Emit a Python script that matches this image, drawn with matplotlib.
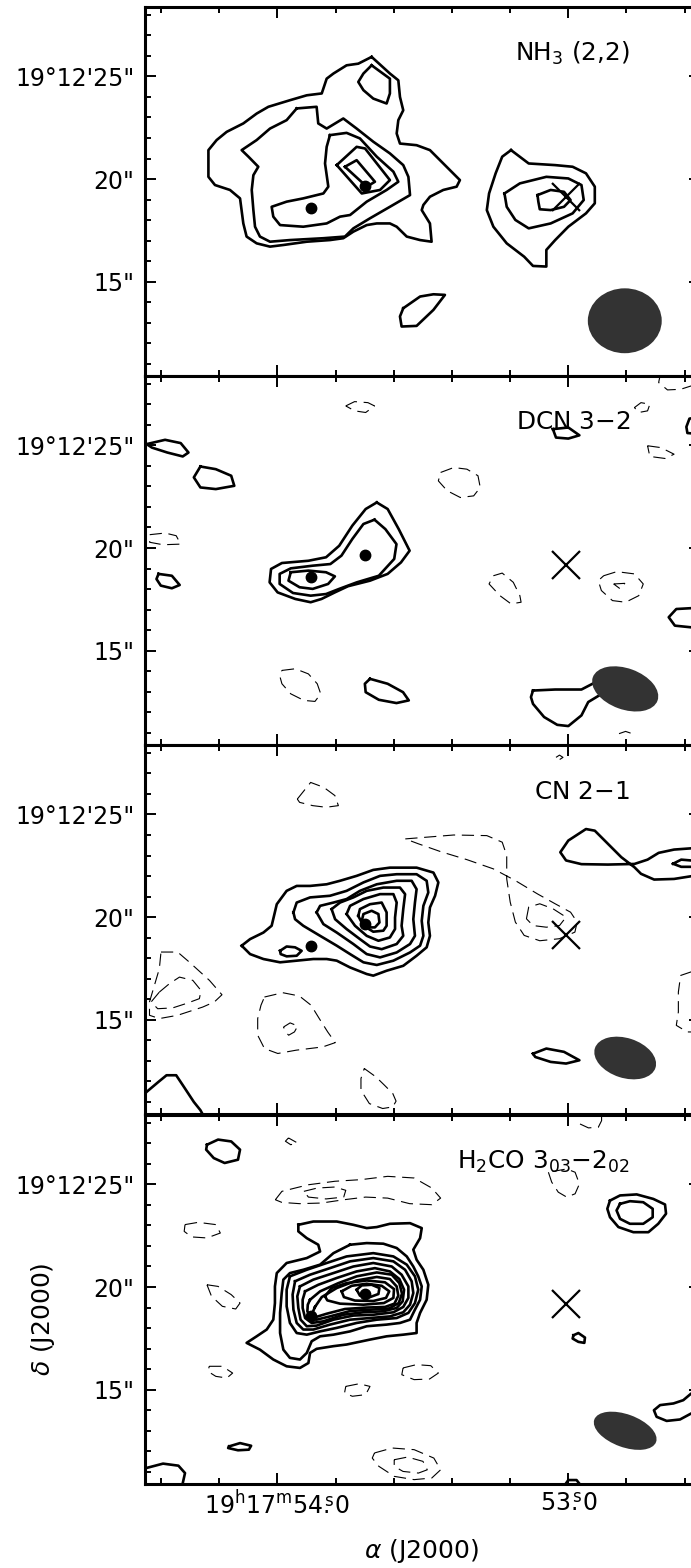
import numpy as np
import matplotlib.pyplot as plt
from matplotlib.patches import Ellipse

plt.rcParams['font.family'] = 'DejaVu Sans'
plt.rcParams['mathtext.fontset'] = 'dejavusans'

# map offsets in arcsec: x = east of 19h17m53.0s, y = arcsec part of Dec (19d12')
DEC0 = 19 + 12 / 60 + 20 / 3600
SEC = 15 * np.cos(np.radians(DEC0))  # arcsec per second of RA

ra_minor = [54.4, 54.2, 54.0, 53.8, 53.6, 53.4, 53.2, 53.0, 52.8, 52.6]
ra_major = [54.0, 53.0]
ra_labels = [r'$19^{\mathrm{h}}17^{\mathrm{m}}54\overset{\mathrm{s}}{.}0$',
             r'$53\overset{\mathrm{s}}{.}0$']
dec_major = [15, 20, 25]
dec_labels = ['15"', '20"', "19°12'25\""]
dec_minor = list(range(11, 29))

titles = ['NH$_3$ (2,2)', 'DCN 3$-$2', 'CN 2$-$1', 'H$_2$CO 3$_{03}$$-$2$_{02}$']

src_x = [12.55, 9.90]
src_y = [18.59, 19.66]
cross_x = [0.12]
cross_y = [19.15]

beam_x = [-2.75, -2.77, -2.77, -2.77]
beam_y = [13.10, 13.14, 13.14, 13.00]
beam_w = [3.6, 3.35, 3.1, 3.2]
beam_h = [3.16, 2.0, 1.94, 1.6]
beam_pa = [0, 20, 18, 20]

# ---------------- NH3 (2,2) ----------------
nh3_pos = [
    [(9.58, 25.95), (8.69, 25.14), (8.28, 24.81), (8.20, 24.00), (8.04, 23.35), (8.28, 22.87),
     (8.36, 22.22), (8.20, 21.73), (7.39, 21.65), (6.74, 21.41), (6.09, 20.76), (5.28, 19.95),
     (5.44, 19.63), (6.09, 19.47), (6.74, 19.14), (7.06, 18.74), (7.14, 18.49), (6.74, 17.84),
     (6.66, 16.95), (7.22, 17.03), (7.87, 17.20), (8.36, 17.68), (8.69, 17.84), (9.33, 17.84),
     (9.82, 17.76), (10.47, 17.44), (10.96, 17.12), (11.61, 17.03), (12.74, 16.95), (13.88, 16.79),
     (14.53, 16.71), (15.18, 16.87), (15.67, 17.20), (15.83, 17.84), (15.99, 19.06), (16.48, 19.47),
     (17.21, 19.71), (17.53, 20.11), (17.53, 21.41), (17.13, 21.90), (16.64, 22.30), (15.83, 22.71),
     (15.18, 23.19), (14.61, 23.52), (13.56, 23.84), (12.74, 24.08), (12.01, 24.17), (11.77, 24.89),
     (11.44, 25.14), (10.80, 25.54), (10.23, 25.62)],
    [(9.58, 25.54), (8.69, 24.89), (8.69, 24.17), (8.85, 23.68), (9.50, 23.92), (9.98, 24.33),
     (10.23, 24.73), (9.98, 25.14)],
    [(13.23, 23.44), (12.26, 23.52), (12.18, 22.71), (11.77, 22.46), (10.96, 22.95), (10.31, 22.46),
     (9.50, 21.82), (8.69, 21.25), (8.04, 20.68), (7.79, 20.11), (7.71, 19.22), (8.69, 18.65),
     (9.66, 18.09), (10.47, 17.60), (10.88, 17.20), (11.93, 17.12), (13.56, 17.03), (14.53, 16.95),
     (15.02, 17.20), (15.26, 17.68), (15.34, 18.49), (15.42, 19.47), (15.34, 20.19), (15.10, 20.60),
     (15.58, 21.09), (15.91, 21.41), (15.18, 21.90), (14.53, 22.46), (13.72, 22.87)],
    [(11.61, 22.14), (10.80, 22.25), (10.15, 21.98), (9.33, 21.09), (8.52, 20.36), (8.28, 19.87),
     (8.85, 19.47), (9.82, 18.90), (10.63, 18.25), (11.12, 18.17), (11.77, 17.84), (12.91, 17.68),
     (14.04, 17.76), (14.37, 18.17), (14.45, 18.65), (13.72, 18.90), (12.91, 19.06), (11.93, 19.30),
     (11.69, 19.63), (11.85, 20.76), (11.77, 21.57)],
    [(11.28, 20.68), (10.31, 21.57), (9.90, 21.49), (8.69, 19.95), (9.17, 19.47), (10.06, 19.30)],
    [(10.88, 20.60), (10.31, 20.92), (9.42, 19.87), (9.82, 19.63)],
    [(8.04, 13.71), (7.22, 14.28), (6.57, 14.39), (6.01, 14.36), (6.57, 13.63), (7.39, 12.85),
     (8.12, 12.82), (8.20, 13.31)],
    [(2.79, 21.41), (1.93, 20.76), (0.64, 20.68), (-0.21, 20.60), (-0.86, 20.28), (-1.29, 19.63),
     (-1.29, 18.82), (-0.86, 18.33), (0.00, 17.68), (0.64, 17.03), (1.07, 16.55), (1.07, 15.74),
     (1.72, 15.77), (2.15, 16.22), (3.00, 16.87), (3.65, 17.68), (3.97, 18.49), (3.86, 19.30),
     (3.54, 20.28), (3.22, 21.09)],
    [(3.11, 19.30), (2.36, 19.79), (1.07, 20.11), (0.00, 20.03), (-0.64, 19.71), (-0.75, 18.98),
     (-0.21, 18.33), (0.86, 17.84), (1.93, 17.60), (2.58, 18.01), (3.00, 18.65)],
    [(1.50, 19.22), (0.86, 19.47), (0.21, 19.38), (-0.11, 18.98), (0.21, 18.65), (0.86, 18.49),
     (1.39, 18.53), (1.46, 18.90)],
]

# ---------------- DCN 3-2 ----------------
dcn_pos = [
    [(9.33, 22.22), (8.80, 21.90), (8.26, 20.92), (7.73, 19.87), (8.15, 19.30), (8.80, 18.74),
     (9.66, 18.41), (10.73, 18.14), (11.37, 17.84), (12.02, 17.52), (12.55, 17.36), (13.30, 17.52),
     (14.16, 17.84), (14.55, 18.33), (14.48, 18.98), (13.95, 19.27), (12.66, 19.38), (11.80, 19.55),
     (11.16, 20.11), (10.52, 21.09), (9.87, 21.90)],
    [(9.44, 21.38), (8.91, 20.92), (8.37, 20.19), (8.48, 19.47), (9.23, 18.65), (10.30, 18.33),
     (11.16, 18.01), (11.80, 17.76), (12.55, 17.68), (13.41, 17.81), (14.06, 18.25), (14.06, 18.74),
     (13.52, 19.01), (12.45, 19.14), (11.59, 19.22), (11.05, 19.63), (10.52, 20.44), (9.98, 21.17)],
    [(13.52, 18.82), (12.66, 18.90), (11.80, 18.82), (11.37, 18.62), (11.70, 18.25), (12.45, 18.01),
     (13.09, 18.09), (13.63, 18.41)],
    [(20.54, 25.06), (19.64, 25.27), (18.88, 25.11), (18.50, 24.65), (18.78, 24.46), (19.53, 24.65),
     (20.28, 24.89)],
    [(17.92, 23.97), (17.17, 23.84), (16.42, 23.52), (16.27, 23.03), (17.17, 22.87), (17.92, 22.95),
     (18.24, 23.44)],
    [(19.96, 18.74), (19.31, 18.65), (18.93, 18.20), (19.31, 18.04), (19.85, 18.17), (20.06, 18.49)],
    [(9.66, 13.63), (8.80, 13.39), (8.05, 12.98), (7.77, 12.58), (8.37, 12.45), (9.23, 12.61),
     (9.87, 12.98), (9.91, 13.39)],
    [(1.72, 13.06), (0.64, 13.11), (-0.64, 13.11), (-1.18, 13.39), (-1.72, 13.55), (-1.50, 12.82),
     (-0.97, 12.50), (-0.64, 11.85), (0.00, 11.33), (0.54, 11.39), (1.18, 11.77), (1.72, 12.41),
     (1.82, 12.74)],
    [(0.75, 25.79), (0.00, 25.87), (-0.54, 25.49), (0.00, 25.33), (0.60, 25.38)],
]
dcn_pos_open = [
    [(-7.0, 17.10), (-5.97, 17.07), (-5.26, 17.03), (-4.89, 16.63), (-5.19, 16.22), (-5.97, 16.14),
     (-7.0, 16.10)],
    [(-7.0, 26.50), (-5.90, 26.30), (-5.75, 25.90), (-5.80, 25.60), (-7.0, 25.50)],
]
dcn_neg = [
    [(10.84, 26.92), (10.41, 27.13), (9.76, 27.08), (9.44, 26.92), (9.87, 26.60), (10.41, 26.68)],
    [(6.22, 23.68), (5.58, 23.92), (4.94, 23.84), (4.40, 23.52), (4.29, 22.95), (4.61, 22.54),
     (5.26, 22.46), (5.90, 22.79), (6.33, 23.27)],
    [(20.39, 20.65), (19.64, 20.73), (19.10, 20.60), (18.88, 20.19), (19.74, 20.16), (20.39, 20.28)],
    [(3.65, 18.65), (3.22, 18.78), (2.68, 18.33), (2.36, 17.68), (2.30, 17.36), (2.79, 17.28),
     (3.33, 17.68), (3.86, 18.25)],
    [(-1.72, 18.65), (-2.36, 18.85), (-3.22, 18.74), (-3.65, 18.25), (-3.43, 17.68), (-2.79, 17.36),
     (-2.15, 17.44), (-1.61, 17.93), (-1.46, 18.41)],
    [(-2.21, 18.25), (-2.75, 18.28), (-2.53, 18.01)],
    [(13.95, 14.04), (13.30, 14.12), (12.66, 13.87), (12.23, 13.39), (12.06, 12.90), (12.34, 12.53),
     (12.88, 12.58), (13.52, 12.90), (13.95, 13.39), (14.06, 13.79)],
    [(-3.22, 26.84), (-3.54, 27.08), (-3.97, 27.00), (-3.86, 26.68), (-3.43, 26.60)],
    [(-3.86, 24.98), (-4.51, 24.89), (-5.15, 24.57), (-4.72, 24.36), (-3.97, 24.46)],
]
dcn_neg_open = [
    [(-4.51, 28.60), (-4.40, 28.06), (-4.83, 27.70), (-5.47, 27.73), (-5.97, 27.89), (-6.6, 27.90)],
    [(-2.47, 10.96), (-2.79, 11.07), (-3.11, 10.96)],
]

# ---------------- CN 2-1 ----------------
cn_pos = [
    [(15.91, 18.61), (15.50, 18.93), (14.85, 19.25), (14.45, 19.58), (14.20, 20.63), (13.72, 21.28),
     (13.23, 21.52), (12.58, 21.52), (11.77, 21.60), (11.12, 21.77), (10.31, 22.01), (9.50, 22.30),
     (8.69, 22.41), (7.39, 22.41), (6.57, 22.17), (6.33, 21.69), (6.49, 21.04), (6.74, 20.47),
     (6.82, 19.74), (6.74, 19.09), (6.90, 18.53), (7.39, 18.12), (8.04, 17.63), (8.85, 17.39),
     (9.50, 17.15), (9.82, 17.23), (10.63, 17.55), (11.28, 17.88), (11.77, 17.96), (12.42, 17.96),
     (13.23, 17.88), (14.04, 17.80), (14.85, 17.96), (15.50, 18.20)],
    [(13.39, 20.23), (13.23, 20.71), (12.58, 20.96), (11.61, 21.04), (10.80, 21.28), (9.98, 21.69),
     (9.17, 22.01), (8.36, 22.09), (7.39, 22.09), (6.90, 21.77), (6.82, 21.20), (7.06, 20.55),
     (7.14, 19.82), (7.06, 19.09), (7.22, 18.61), (7.71, 18.28), (8.52, 17.88), (9.33, 17.67),
     (9.98, 17.80), (10.63, 18.20), (11.28, 18.61), (12.09, 19.09), (12.91, 19.58), (13.31, 19.90)],
    [(12.26, 20.23), (12.09, 20.55), (11.44, 20.71), (10.80, 20.88), (10.15, 21.28), (9.33, 21.60),
     (8.36, 21.77), (7.63, 21.77), (7.39, 21.36), (7.47, 20.71), (7.55, 19.90), (7.47, 19.09),
     (7.71, 18.69), (8.36, 18.28), (9.17, 18.04), (9.82, 18.20), (10.47, 18.69), (11.28, 19.25),
     (11.93, 19.66)],
    [(11.53, 20.39), (11.12, 20.71), (10.47, 20.96), (9.82, 21.28), (9.01, 21.44), (8.20, 21.44),
     (7.95, 21.12), (8.04, 20.39), (8.12, 19.58), (8.04, 19.09), (8.36, 18.69), (9.09, 18.44),
     (9.66, 18.57), (10.15, 18.93), (10.80, 19.42), (11.36, 19.90)],
    [(10.80, 20.15), (10.63, 20.55), (9.98, 20.88), (9.17, 21.12), (8.52, 21.12), (8.36, 20.71),
     (8.44, 19.98), (8.44, 19.42), (8.69, 19.01), (9.25, 18.85), (9.82, 19.09), (10.39, 19.58)],
    [(10.23, 20.06), (10.15, 20.39), (9.66, 20.63), (9.09, 20.71), (8.85, 20.23), (8.85, 19.58),
     (9.01, 19.34), (9.50, 19.29), (9.98, 19.58)],
    [(10.06, 19.82), (9.98, 20.15), (9.58, 20.31), (9.25, 20.15), (9.20, 19.74), (9.42, 19.50),
     (9.74, 19.50)],
    [(14.04, 18.36), (13.72, 18.57), (13.31, 18.53), (12.99, 18.36), (13.23, 18.12), (13.72, 18.09),
     (14.01, 18.20)],
    [(-5.10, 22.60), (-5.50, 22.80), (-6.10, 22.75), (-6.30, 22.60), (-6.00, 22.45), (-5.50, 22.45)],
    [(1.72, 13.35), (1.07, 13.60), (0.21, 13.44), (-0.54, 13.03), (0.11, 12.87), (0.86, 12.95),
     (1.61, 13.19)],
]
cn_pos_open = [
    [(-6.6, 23.36), (-5.97, 23.35), (-5.15, 23.29), (-4.40, 23.13), (-3.86, 22.80), (-3.22, 22.59),
     (-1.93, 22.56), (-0.64, 22.58), (0.11, 22.76), (0.39, 23.16), (0.00, 23.73), (-0.86, 24.29),
     (-1.29, 24.21), (-1.93, 23.57), (-2.58, 22.92), (-3.22, 22.43), (-3.54, 22.11), (-4.18, 21.83),
     (-5.15, 21.86), (-5.97, 21.99), (-6.6, 22.00)],
    [(21.0, 11.00), (20.54, 11.49), (19.96, 11.98), (19.57, 12.30), (19.10, 12.30), (18.78, 11.82),
     (18.24, 11.00), (17.92, 10.60), (17.70, 10.20)],
]
cn_neg = [
    [(13.20, 25.75), (12.55, 26.56), (11.91, 26.32), (11.37, 25.92), (11.20, 25.43), (11.80, 25.35),
     (12.45, 25.43), (13.09, 25.59)],
    [(7.94, 23.81), (5.58, 24.00), (3.97, 23.97), (3.22, 23.65), (3.00, 23.00), (3.00, 21.86),
     (2.83, 20.73), (2.58, 19.76), (2.15, 19.11), (1.39, 18.85), (0.43, 18.95), (-0.32, 19.27),
     (-0.43, 19.76), (-0.11, 20.24), (0.64, 20.65), (1.50, 21.13), (2.58, 21.78), (3.65, 22.35),
     (4.94, 22.80), (6.22, 23.19), (7.30, 23.57)],
    [(2.04, 19.92), (1.93, 20.49), (1.39, 20.65), (0.75, 20.41), (0.11, 20.00), (0.43, 19.59),
     (1.07, 19.51), (1.72, 19.59)],
    [(19.84, 18.30), (19.03, 18.30), (18.46, 17.81), (17.48, 16.92), (16.87, 16.22), (17.24, 15.87),
     (17.81, 15.62), (19.03, 15.22), (19.92, 15.06), (20.40, 15.22), (20.40, 15.87), (20.16, 16.68),
     (19.92, 17.49)],
    [(19.92, 16.35), (19.43, 16.76), (18.94, 17.08), (18.29, 16.92), (17.89, 16.43), (17.97, 16.03),
     (18.62, 15.79), (19.27, 15.58), (20.00, 15.54), (20.32, 15.87)],
    [(14.80, 16.11), (13.91, 16.32), (13.10, 16.16), (12.53, 15.71), (12.13, 15.06), (11.72, 14.41),
     (11.35, 13.89), (11.96, 13.68), (13.26, 13.52), (14.15, 13.36), (14.80, 13.60), (15.13, 14.25),
     (15.13, 15.06), (14.97, 15.71)],
    [(13.87, 14.65), (13.55, 14.85), (13.18, 14.70), (13.34, 14.41), (13.62, 14.25), (13.78, 14.41)],
    [(9.94, 12.63), (9.37, 12.22), (8.96, 11.82), (8.55, 11.41), (8.39, 11.04), (8.55, 10.76),
     (9.04, 10.68), (9.69, 10.92), (10.10, 11.57), (10.10, 12.14)],
    [(0.60, 27.78), (0.43, 27.89), (0.26, 27.78), (0.43, 27.67)],
]
cn_neg_open = [
    [(-6.6, 17.35), (-5.97, 17.33), (-5.47, 17.16), (-5.36, 16.35), (-5.36, 15.38), (-5.26, 14.73),
     (-5.79, 14.41), (-6.6, 14.40)],
]

# ---------------- H2CO 3(03)-2(02) ----------------
h2co_pos = [
    [(13.15, 23.03), (12.42, 23.19), (11.28, 23.19), (10.47, 23.03), (9.82, 22.87), (9.33, 22.92),
     (8.69, 23.08), (7.71, 23.11), (7.14, 22.87), (7.22, 22.38), (7.55, 21.82), (7.39, 21.33),
     (7.06, 20.84), (6.82, 20.11), (6.90, 19.38), (7.22, 18.74), (7.39, 18.25), (7.39, 17.76),
     (8.04, 17.68), (8.85, 17.60), (9.66, 17.44), (10.80, 17.20), (11.44, 17.12), (12.26, 16.99),
     (12.58, 16.79), (12.66, 16.30), (13.07, 16.06), (13.72, 16.14), (14.37, 16.47), (15.02, 16.95),
     (15.67, 17.28), (15.18, 17.60), (14.69, 17.93), (14.37, 18.41), (14.29, 19.22), (14.29, 20.03),
     (14.20, 20.68), (13.72, 21.17), (12.74, 21.41), (12.09, 21.73), (12.18, 22.06), (12.74, 22.38),
     (13.15, 22.71)],
    [(10.63, 22.06), (9.82, 22.14), (9.01, 22.11), (8.36, 21.90), (7.87, 21.49), (7.55, 21.00),
     (7.31, 20.52), (7.14, 20.03), (7.22, 19.38), (7.47, 18.90), (7.71, 18.41), (8.20, 18.25),
     (8.85, 18.17), (9.82, 18.09), (10.63, 17.84), (11.44, 17.68), (12.09, 17.60), (12.50, 17.36),
     (12.74, 16.79), (13.07, 16.47), (13.56, 16.55), (13.88, 16.95), (14.04, 17.76), (14.04, 18.74),
     (13.96, 19.71), (13.88, 20.36), (13.56, 20.68), (12.91, 20.84), (12.09, 21.09), (11.44, 21.65)],
    [(13.56, 20.52), (12.74, 20.84), (11.77, 21.17), (10.80, 21.49), (9.50, 21.65), (8.52, 21.49),
     (7.87, 21.09), (7.47, 20.52), (7.31, 19.87), (7.47, 19.22), (7.79, 18.74), (8.36, 18.49),
     (9.33, 18.41), (10.31, 18.25), (11.28, 18.01), (12.09, 17.84), (12.74, 17.68), (13.23, 17.76),
     (13.56, 18.25), (13.72, 19.06), (13.72, 19.87)],
    [(13.31, 20.28), (12.58, 20.60), (11.61, 20.92), (10.63, 21.25), (9.50, 21.41), (8.52, 21.25),
     (7.95, 20.84), (7.63, 20.28), (7.55, 19.71), (7.71, 19.14), (8.04, 18.77), (8.69, 18.57),
     (9.66, 18.49), (10.63, 18.41), (11.61, 18.17), (12.42, 17.93), (12.91, 17.93), (13.23, 18.25),
     (13.39, 18.90), (13.43, 19.63)],
    [(13.07, 20.03), (12.42, 20.36), (11.44, 20.68), (10.47, 21.00), (9.50, 21.17), (8.60, 21.00),
     (8.12, 20.60), (7.79, 20.03), (7.79, 19.47), (8.04, 19.03), (8.52, 18.77), (9.50, 18.65),
     (10.47, 18.61), (11.44, 18.41), (12.26, 18.12), (12.74, 18.09), (13.04, 18.41), (13.15, 18.98),
     (13.20, 19.55)],
    [(12.82, 19.79), (12.18, 20.11), (11.28, 20.44), (10.31, 20.76), (9.42, 20.92), (8.69, 20.76),
     (8.23, 20.39), (8.00, 19.87), (8.07, 19.30), (8.36, 18.98), (9.01, 18.82), (9.98, 18.77),
     (10.96, 18.65), (11.93, 18.33), (12.50, 18.25), (12.82, 18.49), (12.94, 18.98), (12.94, 19.38)],
    [(12.58, 19.38), (12.09, 19.79), (11.20, 20.19), (10.31, 20.52), (9.33, 20.71), (8.60, 20.60),
     (8.23, 20.19), (8.10, 19.68), (8.26, 19.22), (8.72, 18.96), (9.58, 18.90), (10.63, 18.83),
     (11.61, 18.57), (12.26, 18.41), (12.55, 18.49), (12.71, 18.82), (12.69, 19.14)],
    [(12.34, 19.03), (12.01, 19.51), (11.28, 19.95), (10.31, 20.32), (9.33, 20.49), (8.69, 20.39),
     (8.36, 20.03), (8.28, 19.58), (8.47, 19.19), (8.93, 19.03), (9.82, 19.00), (10.88, 18.93),
     (11.77, 18.70), (12.29, 18.54), (12.50, 18.65)],
    [(11.85, 19.55), (11.53, 19.95), (10.80, 20.19), (9.82, 20.32), (8.93, 20.23), (8.49, 19.90),
     (8.52, 19.47), (8.98, 19.22), (9.98, 19.14), (11.12, 19.19), (11.74, 19.35)],
    [(11.04, 19.79), (10.55, 20.06), (9.82, 20.16), (9.09, 20.06), (8.72, 19.79), (8.88, 19.47),
     (9.50, 19.32), (10.39, 19.34), (10.93, 19.51)],
    [(10.31, 19.87), (10.06, 20.08), (9.58, 20.11), (9.20, 19.95), (9.25, 19.66), (9.66, 19.51),
     (10.15, 19.58)],
    [(17.60, 26.93), (17.06, 27.18), (16.42, 27.09), (15.99, 26.69), (16.09, 26.20), (16.74, 26.04),
     (17.27, 26.28), (17.64, 26.69)],
    [(-2.03, 24.21), (-2.52, 24.46), (-3.33, 24.51), (-4.14, 24.29), (-4.71, 24.02), (-4.76, 23.57),
     (-4.38, 23.08), (-3.90, 22.67), (-3.17, 22.67), (-2.44, 22.92), (-2.03, 23.40), (-1.90, 23.81)],
    [(-2.52, 24.05), (-3.00, 24.18), (-3.65, 24.13), (-4.11, 23.81), (-4.11, 23.40), (-3.65, 23.08),
     (-3.00, 23.08), (-2.52, 23.32), (-2.35, 23.73)],
    [(-0.25, 17.65), (-0.49, 17.76), (-0.81, 17.54), (-0.78, 17.28), (-0.49, 17.33), (-0.21, 17.49)],
    [(16.52, 12.24), (15.99, 12.40), (15.45, 12.27), (15.56, 12.08), (16.09, 12.05), (16.57, 12.16)],
]
h2co_pos_open = [
    [(-6.6, 14.95), (-5.98, 14.81), (-5.60, 14.49), (-5.12, 14.33), (-4.47, 14.25), (-4.17, 14.00),
     (-4.30, 13.68), (-4.79, 13.48), (-5.44, 13.55), (-5.98, 13.84), (-6.6, 14.00)],
    [(21.0, 11.10), (20.54, 11.19), (19.74, 11.40), (18.99, 11.30), (18.67, 10.94), (18.78, 10.45),
     (18.80, 10.20)],
    [(0.21, 10.30), (0.00, 10.60), (-0.40, 10.60), (-0.64, 10.30)],
]
h2co_neg = [
    [(14.27, 24.25), (13.95, 24.66), (12.66, 24.98), (11.37, 25.15), (10.09, 25.23), (8.80, 25.39),
     (7.51, 25.31), (6.65, 24.82), (6.22, 24.33), (6.65, 24.01), (7.73, 24.06), (8.80, 24.33),
     (9.87, 24.38), (10.94, 24.25), (12.02, 24.09), (13.09, 24.06), (13.95, 24.12)],
    [(12.88, 24.66), (12.23, 24.82), (11.37, 24.87), (10.84, 24.71), (10.94, 24.38), (11.80, 24.29),
     (12.66, 24.38)],
    [(13.63, 27.26), (13.78, 27.10), (13.52, 26.93), (13.20, 27.02)],
    [(18.67, 23.04), (18.03, 23.15), (17.17, 23.04), (16.95, 22.63), (17.60, 22.39), (18.35, 22.44),
     (18.71, 22.71)],
    [(17.60, 20.11), (17.06, 20.03), (16.42, 19.63), (15.99, 19.22), (16.20, 18.93), (16.85, 19.06),
     (17.38, 19.55)],
    [(17.49, 16.14), (16.85, 16.14), (16.35, 15.81), (16.63, 15.57), (17.17, 15.65), (17.55, 15.89)],
    [(10.84, 15.16), (10.19, 15.29), (9.66, 15.16), (9.87, 14.76), (10.52, 14.68), (10.90, 14.84)],
    [(8.05, 16.06), (7.40, 16.22), (6.70, 16.17), (6.33, 15.81), (6.76, 15.52), (7.51, 15.49),
     (8.11, 15.73)],
    [(9.44, 11.92), (8.58, 12.16), (7.51, 12.08), (6.55, 11.67), (6.22, 11.10), (6.65, 10.70),
     (7.51, 10.62), (8.48, 10.78), (9.23, 11.27), (9.55, 11.67)],
    [(8.48, 11.59), (7.83, 11.72), (7.08, 11.51), (6.87, 11.10), (7.30, 10.94), (8.05, 11.02),
     (8.48, 11.27)],
    [(0.97, 25.59), (0.81, 25.11), (0.49, 24.62), (0.08, 24.38), (-0.33, 24.54), (-0.54, 25.02),
     (-0.33, 25.59), (0.08, 25.75)],
]
h2co_neg_open = [
    [(-0.57, 27.94), (-0.98, 27.75), (-1.46, 27.78), (-1.62, 28.10), (-1.62, 28.50)],
]

panels = [
    (nh3_pos, [], [], []),
    (dcn_pos, dcn_pos_open, dcn_neg, dcn_neg_open),
    (cn_pos, cn_pos_open, cn_neg, cn_neg_open),
    (h2co_pos, h2co_pos_open, h2co_neg, h2co_neg_open),
]


def draw(ax, shapes, dashed=False, closed=True):
    for pts in shapes:
        if closed:
            pts = list(pts) + [pts[0]]
        xs, ys = zip(*pts)
        if dashed:
            ax.plot(xs, ys, color='k', lw=0.8, ls=(0, (11, 6)), zorder=2)
        else:
            ax.plot(xs, ys, color='k', lw=1.9, solid_joinstyle='round', zorder=2)


fig = plt.figure(figsize=(6.91, 15.68), dpi=100)
bottoms = [0.7602, 0.5249, 0.2895, 0.0536]
left, width, height = 0.2104, 0.8031, 0.2356

for i, (pos, pos_open, neg, neg_open) in enumerate(panels):
    ax = fig.add_axes([left, bottoms[i], width, height])
    draw(ax, pos)
    draw(ax, pos_open, closed=False)
    draw(ax, neg, dashed=True)
    draw(ax, neg_open, dashed=True, closed=False)

    ax.plot(src_x, src_y, 'o', color='k', ms=7.5, zorder=4)
    ax.plot(cross_x, cross_y, 'x', color='k', ms=20, mew=1.6, zorder=4)
    ax.add_patch(Ellipse((beam_x[i], beam_y[i]), beam_w[i], beam_h[i], angle=beam_pa[i],
                         facecolor='#333333', edgecolor='none', zorder=3))
    ax.text(0.8733, 0.854, titles[i], transform=ax.transAxes, ha='right', va='baseline',
            fontsize=17.8)

    ax.set_xlim(20.6, -6.43)
    ax.set_ylim(10.41, 28.40)
    ax.set_xticks([(r - 53.0) * SEC for r in ra_major])
    ax.set_xticks([(r - 53.0) * SEC for r in ra_minor], minor=True)
    ax.set_yticks(dec_major)
    ax.set_yticks(dec_minor, minor=True)
    ax.set_yticklabels(dec_labels, fontsize=17)
    if i == 3:
        ax.set_xticklabels(ra_labels, fontsize=17)
        ax.set_xlabel(r'$\alpha$ (J2000)', fontsize=18)
        ax.set_ylabel(r'$\delta$ (J2000)', fontsize=18)
        ax.xaxis.set_label_coords(0.4967, -0.181)
        ax.xaxis.label.set_va('center')
        ax.yaxis.set_label_coords(-0.1845, 0.4466)
        ax.yaxis.label.set_va('center')
    else:
        ax.set_xticklabels([])
    ax.tick_params(which='both', direction='in', top=True, right=True, width=1.4)
    ax.tick_params(which='major', length=8)
    ax.tick_params(axis='y', which='major', pad=8)
    ax.tick_params(axis='x', which='major', pad=5)
    ax.tick_params(which='minor', length=4)
    for s in ax.spines.values():
        s.set_linewidth(2.2)

fig.savefig('out.png', dpi=100)
